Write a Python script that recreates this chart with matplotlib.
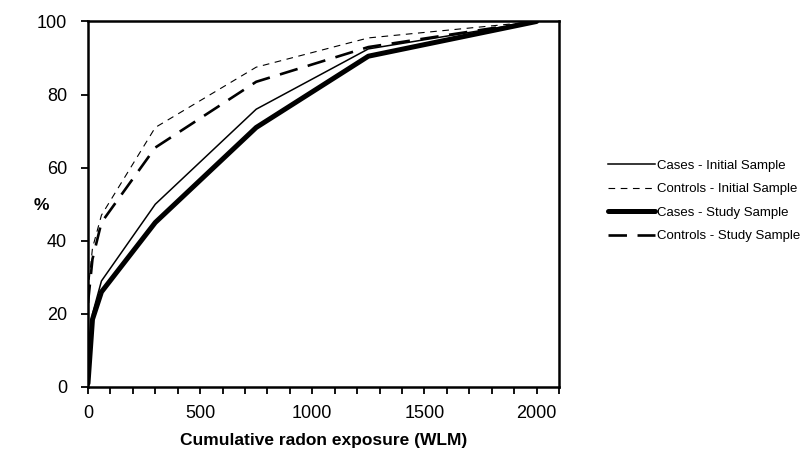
import matplotlib
matplotlib.use("Agg")
import matplotlib.pyplot as plt

plt.rcParams["font.family"] = ["Liberation Sans", "DejaVu Sans"]

# exposure points (WLM) where the cumulative % was read
exposure = [0, 20, 60, 300, 750, 1250, 2000]

# cumulative percent for each group
cases_initial = [1, 20, 29, 50, 76, 92.5, 100]
controls_initial = [26, 38, 47, 71, 87.5, 95.5, 100]
cases_study = [1, 18.5, 26, 45, 71, 90.5, 100]
controls_study = [23, 35, 45, 65.5, 83.5, 93, 100]

labels = ["Cases - Initial Sample", "Controls - Initial Sample",
          "Cases - Study Sample", "Controls - Study Sample"]

fig = plt.figure(figsize=(8.05, 4.57), dpi=100)
ax = fig.add_axes([0.1093, 0.1532, 0.5851, 0.7998])

l1, = ax.plot(exposure, cases_initial, color="black", lw=1.1)
l2, = ax.plot(exposure, controls_initial, color="black", lw=0.8,
              dashes=(6, 5))
l3, = ax.plot(exposure, cases_study, color="black", lw=3.6,
              solid_capstyle="round")
l4, = ax.plot(exposure, controls_study, color="black", lw=1.9,
              dashes=(7, 4))

ax.set_xlim(0, 2100)
ax.set_ylim(0, 100)
ax.set_xticks(range(0, 2101, 100))
ax.set_xticklabels([str(v) if v % 500 == 0 else "" for v in range(0, 2101, 100)])
ax.set_yticks(range(0, 101, 20))
ax.tick_params(axis="both", labelsize=13, width=1.3, length=5, color="black")
ax.tick_params(axis="x", pad=8)
ax.tick_params(axis="y", pad=10)

for s in ax.spines.values():
    s.set_linewidth(1.8)
    s.set_color("black")

ax.set_xlabel("Cumulative radon exposure (WLM)", fontsize=12.5,
              fontweight="bold", labelpad=8)
fig.text(0.052, 0.55, "%", fontsize=12.5, fontweight="bold",
         ha="center", va="center")

fig.legend([l1, l2, l3, l4], labels, loc="center left",
           bbox_to_anchor=(0.74, 0.56), frameon=False, fontsize=9.5,
           handlelength=3.6, handletextpad=0.15, labelspacing=0.85)

fig.savefig("out.png", dpi=100)
